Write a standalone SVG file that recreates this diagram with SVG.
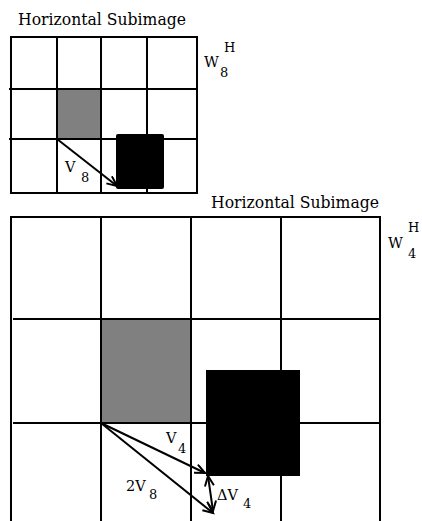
<svg xmlns="http://www.w3.org/2000/svg" width="422" height="521" viewBox="0 0 422 521">
  <style>
    .grid { fill: none; stroke: #000; stroke-width: 2; }
    .gline { stroke: #000; stroke-width: 2; }
    .gray { fill: #808080; }
    .dark { fill: #000; }
    .vec { stroke: #000; stroke-width: 2; fill: none; }
    .title { font-family: "DejaVu Serif", "Liberation Serif", serif; font-size: 16.5px; fill: #000; }
    .lbl { font-family: "DejaVu Serif", "Liberation Serif", serif; font-size: 14.5px; fill: #000; }
    .sub { font-family: "DejaVu Serif", "Liberation Serif", serif; font-size: 13px; fill: #000; }
  </style>
  <defs>
    <marker id="head" markerUnits="userSpaceOnUse" markerWidth="14" markerHeight="12" refX="11" refY="5" orient="auto-start-reverse">
      <path d="M1,0.5 L11,5 L1,9.5" fill="none" stroke="#000" stroke-width="2"/>
    </marker>
  </defs>
  <rect width="422" height="521" fill="#fff"/>

  <!-- Upper block: W8 horizontal subimage -->
  <g id="w8-grid">
    <rect class="gray" x="57" y="89" width="45" height="50"/>
    <rect class="grid" x="11" y="37" width="186" height="156"/>
    <line class="gline" x1="57" y1="37" x2="57" y2="193"/>
    <line class="gline" x1="101" y1="37" x2="101" y2="193"/>
    <line class="gline" x1="147" y1="37" x2="147" y2="193"/>
    <line class="gline" x1="9" y1="89" x2="196" y2="89"/>
    <line class="gline" x1="9" y1="139" x2="196" y2="139"/>
    <rect class="dark" x="116" y="134" width="48" height="55" rx="2"/>
  </g>
  <g id="w8-title">
    <text class="title" x="18" y="25" textLength="168" lengthAdjust="spacingAndGlyphs">Horizontal Subimage</text>
  </g>
  <g id="w8-label">
    <text class="lbl" x="204" y="67">W</text>
    <text class="sub" x="224" y="52">H</text>
    <text class="sub" x="220" y="77">8</text>
  </g>

  <!-- Lower block: W4 horizontal subimage -->
  <g id="w4-grid">
    <rect class="gray" x="101" y="319" width="91" height="104"/>
    <path class="grid" d="M11,530 L11,217 L380,217 L380,530"/>
    <line class="gline" x1="101" y1="217" x2="101" y2="530"/>
    <line class="gline" x1="191" y1="217" x2="191" y2="530"/>
    <line class="gline" x1="281" y1="217" x2="281" y2="530"/>
    <line class="gline" x1="13" y1="319" x2="380" y2="319"/>
    <line class="gline" x1="13" y1="423" x2="380" y2="423"/>
    <rect class="dark" x="206" y="370" width="94" height="106"/>
  </g>
  <g id="w4-title">
    <text class="title" x="211" y="208" textLength="168" lengthAdjust="spacingAndGlyphs">Horizontal Subimage</text>
  </g>
  <g id="w4-label">
    <text class="lbl" x="388" y="248">W</text>
    <text class="sub" x="408" y="232">H</text>
    <text class="sub" x="408" y="258">4</text>
  </g>

  <!-- Motion vectors -->
  <g id="connectors">
    <line class="vec" x1="57" y1="139" x2="117" y2="186" marker-end="url(#head)"/>
    <line class="vec" x1="101" y1="423" x2="205" y2="473" marker-end="url(#head)"/>
    <line class="vec" x1="101" y1="423" x2="213" y2="513" marker-end="url(#head)"/>
    <line class="vec" x1="208" y1="476" x2="213" y2="511" marker-start="url(#head)" marker-end="url(#head)"/>
  </g>

  <g id="v8-label">
    <text class="lbl" x="65" y="172">V</text>
    <text class="sub" x="81" y="182">8</text>
  </g>
  <g id="v4-label">
    <text class="lbl" x="166" y="443">V</text>
    <text class="sub" x="178" y="453">4</text>
  </g>
  <g id="2v8-label">
    <text class="lbl" x="126" y="491">2V</text>
    <text class="sub" x="149" y="499">8</text>
  </g>
  <g id="dv4-label">
    <text class="lbl" x="217" y="500">ΔV</text>
    <text class="sub" x="243" y="508">4</text>
  </g>
</svg>
